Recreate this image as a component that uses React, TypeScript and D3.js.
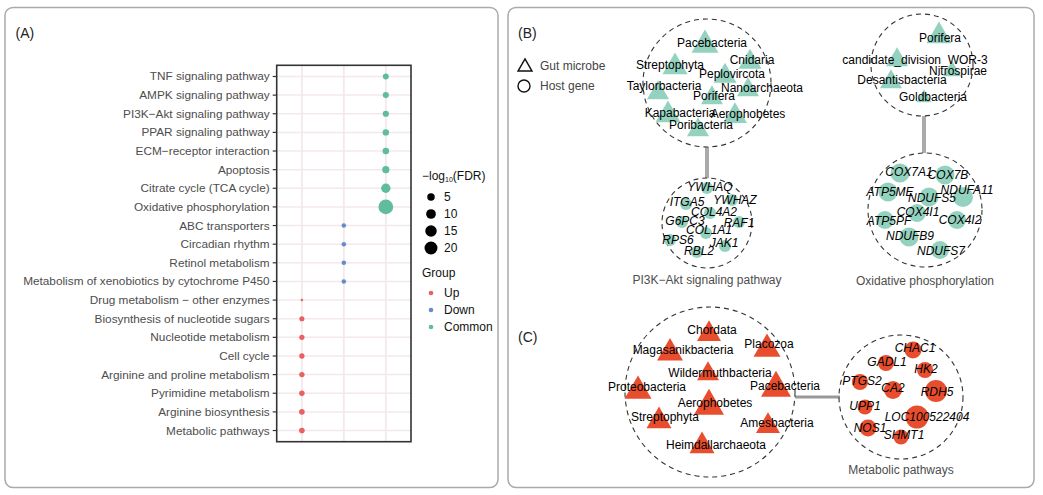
import * as d3 from 'd3';
import React from 'react';

const FONT = "'Liberation Sans', Arial, sans-serif";

// ---- panel A data (top to bottom) ----
const pathways = [
  'TNF signaling pathway', 'AMPK signaling pathway', 'PI3K\u2212Akt signaling pathway',
  'PPAR signaling pathway', 'ECM\u2212receptor interaction', 'Apoptosis',
  'Citrate cycle (TCA cycle)', 'Oxidative phosphorylation', 'ABC transporters',
  'Circadian rhythm', 'Retinol metabolism', 'Metabolism of xenobiotics by cytochrome P450',
  'Drug metabolism \u2212 other enzymes', 'Biosynthesis of nucleotide sugars',
  'Nucleotide metabolism', 'Cell cycle', 'Arginine and proline metabolism',
  'Pyrimidine metabolism', 'Arginine biosynthesis', 'Metabolic pathways',
];
const pathwayGroup = [
  'Common', 'Common', 'Common', 'Common', 'Common', 'Common', 'Common', 'Common',
  'Down', 'Down', 'Down', 'Down',
  'Up', 'Up', 'Up', 'Up', 'Up', 'Up', 'Up', 'Up',
];
const pathwayFDR = [2.6, 2.8, 3.0, 3.2, 3.5, 4.5, 9, 27, 1.1, 1.1, 1.1, 1.1, 0.04, 1.6, 1.7, 1.8, 1.9, 2.0, 2.1, 2.2];
const groups = ['Up', 'Down', 'Common'];
const groupColors = ['#E8605F', '#6A8BCB', '#5FBD9B'];
const sizeBreaks = [5, 10, 15, 20];

// ---- network clusters ----
const pi3kMicrobes = ['Pacebacteria', 'Cnidaria', 'Streptophyta', 'Peplovircota', 'Taylorbacteria',
  'Nanoarchaeota', 'Porifera', 'Kapabacteria', 'Aerophobetes', 'Poribacteria'];
const pi3kMicrobeWeight = [17, 13, 15, 13, 12, 12, 12, 15, 14, 12];
const pi3kMicrobeLayout = [[-2, -38, 5, -40], [43, -21, 45, -23], [-32, -16, -37, -18], [18, -7, 25, -9],
  [-49, 10, -43, 3], [41, 7, 55, 5], [5, 15, 7, 13], [-39, 32, -27, 30], [28, 33, 41, 31], [-9, 47, -6, 42]];

const oxMicrobes = ['Porifera', 'candidate_division_WOR-3', 'Nitrospirae', 'Desantisbacteria', 'Goldbacteria'];
const oxMicrobeWeight = [15, 12, 8, 12, 5];
const oxMicrobeLayout = [[17, -29, 18, -27], [-25, -5, -7, -5], [30, 6, 36, 6], [-31, 17, -20, 15], [2, 33, 11, 32]];

const pi3kGenes = ['YWHAQ', 'ITGA5', 'YWHAZ', 'COL4A2', 'G6PC3', 'RAF1', 'COL1A1', 'RPS6', 'JAK1', 'RBL2'];
const pi3kGeneWeight = [4, 4, 4, 4, 4, 4, 4, 4, 4, 4];
const pi3kGeneLayout = [[0, -35, 3, -36], [-21, -19, -20, -21], [25, -23, 28, -23], [3, -10, 7, -11],
  [-25, -1, -22, -2], [32, -1, 32, 0], [-1, 10, 2, 7], [-37, 17, -29, 17], [18, 23, 17, 20], [-10, 29, -8, 28]];

const oxGenes = ['COX7A1', 'COX7B', 'ATP5ME', 'NDUFS5', 'NDUFA11', 'COX4I1', 'ATP5PF', 'COX4I2', 'NDUFB9', 'NDUFS7'];
const oxGeneWeight = [11, 11, 11, 11, 12, 10, 10, 10, 11, 10];
const oxGeneLayout = [[-25, -37, -16, -38], [20, -35, 23, -35], [-37, -18, -35, -18], [4, -13, 7, -12],
  [38, -13, 42, -20], [-8, 3, -7, 2], [-40, 10, -36, 11], [32, 10, 35, 10], [-16, 27, -15, 26], [15, 40, 16, 41]];

const metMicrobes = ['Chordata', 'Magasanikbacteria', 'Placozoa', 'Wildermuthbacteria', 'Proteobacteria',
  'Pacebacteria', 'Aerophobetes', 'Streptophyta', 'Amesbacteria', 'Heimdallarchaeota'];
const metMicrobeWeight = [14, 16, 17, 12, 17, 20, 20, 15, 14, 15];
const metMicrobeLayout = [[-1, -58, 2, -62], [-40, -39, -27, -42], [57, -43, 59, -48], [-2, -18, 10, -19],
  [-72, -1, -63, -5], [66, -4, 75, -6], [-1, 14, 5, 11], [-51, 29, -45, 25], [58, 34, 67, 31], [-8, 54, 6, 53]];

const metGenes = ['CHAC1', 'GADL1', 'HK2', 'PTGS2', 'CA2', 'RDH5', 'UPP1', 'LOC100522404', 'NOS1', 'SHMT1'];
const metGeneWeight = [9, 8, 8, 8, 10, 14, 7, 15, 9, 7];
const metGeneLayout = [[12, -47, 14, -49], [-15, -34, -14, -35], [24, -27, 25, -28], [-41, -15, -39, -16],
  [-8, -7, -8, -9], [35, -6, 36, -5], [-36, 10, -36, 9], [16, 20, 26, 20], [-33, 31, -31, 31], [0, 40, 3, 38]];

const triWidth = d3.scaleLinear().domain([0, 20]).range([10, 30]);
const circR = d3.scaleLinear().domain([0, 20]).range([4, 14]);

type ClusterProps = {
  cx: number; cy: number; r: number; names: string[]; weights: number[]; layout: number[][];
  shape: 'tri' | 'circle'; color: string; title?: string; titleDy?: number;
};

function Cluster({ cx, cy, r, names, weights, layout, shape, color, title, titleDy }: ClusterProps) {
  const x = d3.scaleLinear().domain([-100, 100]).range([cx - 100, cx + 100]);
  const y = d3.scaleLinear().domain([-100, 100]).range([cy - 100, cy + 100]);
  return (
    <g>
      <circle cx={cx} cy={cy} r={r} fill="none" stroke="#333" strokeWidth={1.1} strokeDasharray="5,4" />
      {names.map((n, i) => {
        const [nx, ny] = layout[i];
        if (shape === 'tri') {
          const w = triWidth(weights[i]);
          const path = d3.symbol().type(d3.symbolTriangle).size((Math.sqrt(3) * w * w) / 4)();
          return <path key={n} d={path || ''} transform={`translate(${x(nx)},${y(ny)})`} fill={color} />;
        }
        return <circle key={n} cx={x(nx)} cy={y(ny)} r={circR(weights[i])} fill={color} />;
      })}
      {names.map((n, i) => {
        const [, , lx, ly] = layout[i];
        return (
          <text key={'l' + n} x={x(lx)} y={y(ly)} textAnchor="middle" dominantBaseline="central"
            fontSize={12} fontStyle={shape === 'circle' ? 'italic' : 'normal'} fill="#000">{n}</text>
        );
      })}
      {title && (
        <text x={cx} y={cy + r + (titleDy || 14)} textAnchor="middle" dominantBaseline="central" fontSize={12} fill="#4D4D4D">{title}</text>
      )}
    </g>
  );
}

function PanelA() {
  const left = 276.7, right = 411, top = 65.3, bottom = 441.7;
  const y = d3.scalePoint<string>().domain(pathways).range([top, bottom]).padding(0.6);
  const x = d3.scalePoint<string>().domain(groups).range([left, right]).padding(0.6);
  const rs = d3.scaleSqrt().domain([0, 30]).range([1, 7.7]);
  const color = d3.scaleOrdinal<string, string>().domain(groups).range(groupColors);
  const grid = '#F3E8EC';
  return (
    <g>
      <rect x={5} y={7.5} width={493} height={480} rx={8} fill="#fff" stroke="#AAAAAA" strokeWidth={1.5} />
      <text x={15.5} y={33} fontSize={14} dominantBaseline="central" fill="#222">(A)</text>
      {pathways.map(p => (
        <line key={'h' + p} x1={left} x2={right} y1={y(p)} y2={y(p)} stroke={grid} strokeWidth={1.5} />
      ))}
      {groups.map(g => (
        <line key={'v' + g} x1={x(g)} x2={x(g)} y1={top} y2={bottom} stroke={grid} strokeWidth={1.8} />
      ))}
      {pathways.map((p, i) => (
        <circle key={'c' + p} cx={x(pathwayGroup[i])} cy={y(p)} r={rs(pathwayFDR[i])} fill={color(pathwayGroup[i])} />
      ))}
      <rect x={left} y={top} width={right - left} height={bottom - top} fill="none" stroke="#333" strokeWidth={1.6} />
      {pathways.map(p => (
        <g key={'t' + p}>
          <line x1={left - 4} x2={left} y1={y(p)} y2={y(p)} stroke="#333" strokeWidth={1.2} />
          <text x={left - 7} y={y(p)} textAnchor="end" dominantBaseline="central" fontSize={11.8} fill="#4D4D4D">{p}</text>
        </g>
      ))}
      {/* legends */}
      <text x={422} y={176} fontSize={12} dominantBaseline="central" fill="#111">
        {'\u2212log'}<tspan fontSize={7} dy={3}>10</tspan><tspan dy={-3}>(FDR)</tspan>
      </text>
      {sizeBreaks.map((s, i) => {
        const ly = [197, 214, 231, 248][i];
        return (
          <g key={'s' + s}>
            <circle cx={431} cy={ly} r={rs(s)} fill="#000" />
            <text x={444} y={ly} fontSize={12} dominantBaseline="central" fill="#111">{s}</text>
          </g>
        );
      })}
      <text x={422} y={273} fontSize={12} dominantBaseline="central" fill="#111">Group</text>
      {groups.map((g, i) => {
        const ly = 293 + i * 17;
        return (
          <g key={'g' + g}>
            <circle cx={431} cy={ly} r={2.3} fill={color(g)} />
            <text x={444} y={ly} fontSize={12} dominantBaseline="central" fill="#111">{g}</text>
          </g>
        );
      })}
    </g>
  );
}

function PanelBC() {
  const teal = '#93D2BE';
  const red = '#E84E2E';
  const tri = d3.symbol().type(d3.symbolTriangle).size((Math.sqrt(3) * 14 * 14) / 4)();
  return (
    <g>
      <rect x={508} y={7.5} width={526} height={480} rx={8} fill="#fff" stroke="#AAAAAA" strokeWidth={1.5} />
      <text x={518} y={33} fontSize={14} dominantBaseline="central" fill="#222">(B)</text>
      <text x={518} y={337} fontSize={14} dominantBaseline="central" fill="#222">(C)</text>
      <path d={tri || ''} transform="translate(525,67)" fill="none" stroke="#111" strokeWidth={1.4} />
      <text x={540} y={66} fontSize={12} dominantBaseline="central" fill="#444">Gut microbe</text>
      <circle cx={524} cy={86} r={6} fill="none" stroke="#111" strokeWidth={1.4} />
      <text x={540} y={86} fontSize={12} dominantBaseline="central" fill="#444">Host gene</text>

      <line x1={707} x2={707} y1={147} y2={178} stroke="#AAAAAA" strokeWidth={4} />
      <line x1={924} x2={924} y1={116} y2={153} stroke="#AAAAAA" strokeWidth={4} />
      <line x1={795} x2={840} y1={397} y2={397} stroke="#999999" strokeWidth={3} />

      <Cluster cx={707} cy={83} r={64} names={pi3kMicrobes} weights={pi3kMicrobeWeight} layout={pi3kMicrobeLayout} shape="tri" color={teal} />
      <Cluster cx={922} cy={65} r={51} names={oxMicrobes} weights={oxMicrobeWeight} layout={oxMicrobeLayout} shape="tri" color={teal} />
      <Cluster cx={707} cy={223} r={45} names={pi3kGenes} weights={pi3kGeneWeight} layout={pi3kGeneLayout} shape="circle" color={teal} title={'PI3K\u2212Akt signaling pathway'} titleDy={12} />
      <Cluster cx={925} cy={210} r={57} names={oxGenes} weights={oxGeneWeight} layout={oxGeneLayout} shape="circle" color={teal} title="Oxidative phosphorylation" titleDy={14} />
      <Cluster cx={710} cy={392} r={85} names={metMicrobes} weights={metMicrobeWeight} layout={metMicrobeLayout} shape="tri" color={red} />
      <Cluster cx={901} cy={397} r={62} names={metGenes} weights={metGeneWeight} layout={metGeneLayout} shape="circle" color={red} title="Metabolic pathways" titleDy={11} />
    </g>
  );
}

export default function App() {
  return (
    <svg width={1043} height={495} style={{ position: 'absolute', left: 0, top: 0, background: '#fff' }} fontFamily={FONT}>
      <PanelA />
      <PanelBC />
    </svg>
  );
}
